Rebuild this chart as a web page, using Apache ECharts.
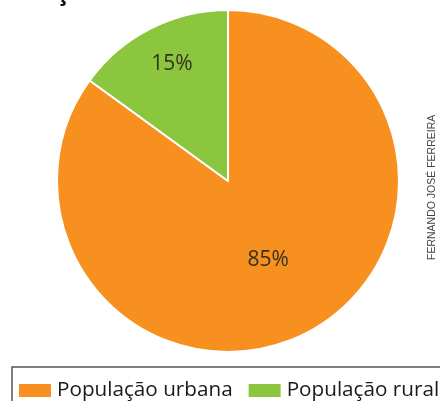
<!DOCTYPE html>
<html>
<head>
<meta charset="utf-8">
<script src="https://cdn.jsdelivr.net/npm/echarts@6/dist/echarts.min.js"></script>
<style>
  html, body { margin: 0; padding: 0; background: #fff; }
  #main { width: 440px; height: 401px; }
</style>
</head>
<body>
<div id="main"></div>
<script>
// dados do gráfico
var categorias = ['População urbana', 'População rural'];
var valores = [85, 15];
var cores = ['#F7901E', '#8CC63F'];

var chart = echarts.init(document.getElementById('main'));

var dados = [];
for (var i = 0; i < categorias.length; i++) {
    dados.push({
        name: categorias[i],
        value: valores[i],
        itemStyle: { color: cores[i] }
    });
}
// rótulo do 15% fica mais perto da borda
dados[1].label = { offset: [-16, -38] };

var option = {
    backgroundColor: '#fff',
    animation: false,
    legend: {
        left: 12,
        top: 375,
        width: 470,
        padding: [5, 5],
        itemWidth: 34,
        itemHeight: 15,
        itemGap: 14,
        icon: 'rect',
        textStyle: {
            fontFamily: 'Open Sans',
            fontSize: 20.7,
            color: '#1a1a1a',
            padding: [0, 0, 0, 0]
        },
        data: categorias
    },
    graphic: [
        {
            type: 'rect',
            shape: { x: 12, y: 367, width: 440, height: 50 },
            style: { fill: 'none', stroke: '#555', lineWidth: 1.5 },
            silent: true
        },
        {
            type: 'text',
            x: 427,
            y: 260,
            rotation: Math.PI / 2,
            style: {
                text: 'FERNANDO JOSÉ FERREIRA',
                font: '10.5px "Liberation Sans"',
                fill: '#444',
                verticalAlign: 'top'
            }
        },
        {
            type: 'text',
            x: 56,
            y: -19,
            style: {
                text: 'ç',
                font: 'bold 24px "Open Sans"',
                fill: '#111'
            }
        }
    ],
    series: [
        {
            type: 'pie',
            center: [228, 181],
            radius: 171,
            startAngle: 90,
            clockwise: true,
            label: {
                show: true,
                position: 'inside',
                formatter: '{c}%',
                fontFamily: 'Open Sans',
                fontSize: 21,
                color: '#33321f'
            },
            labelLine: { show: false },
            itemStyle: {
                borderColor: '#fff',
                borderWidth: 2
            },
            emphasis: { disabled: true },
            data: dados
        }
    ]
};
chart.setOption(option);
</script>
</body>
</html>
